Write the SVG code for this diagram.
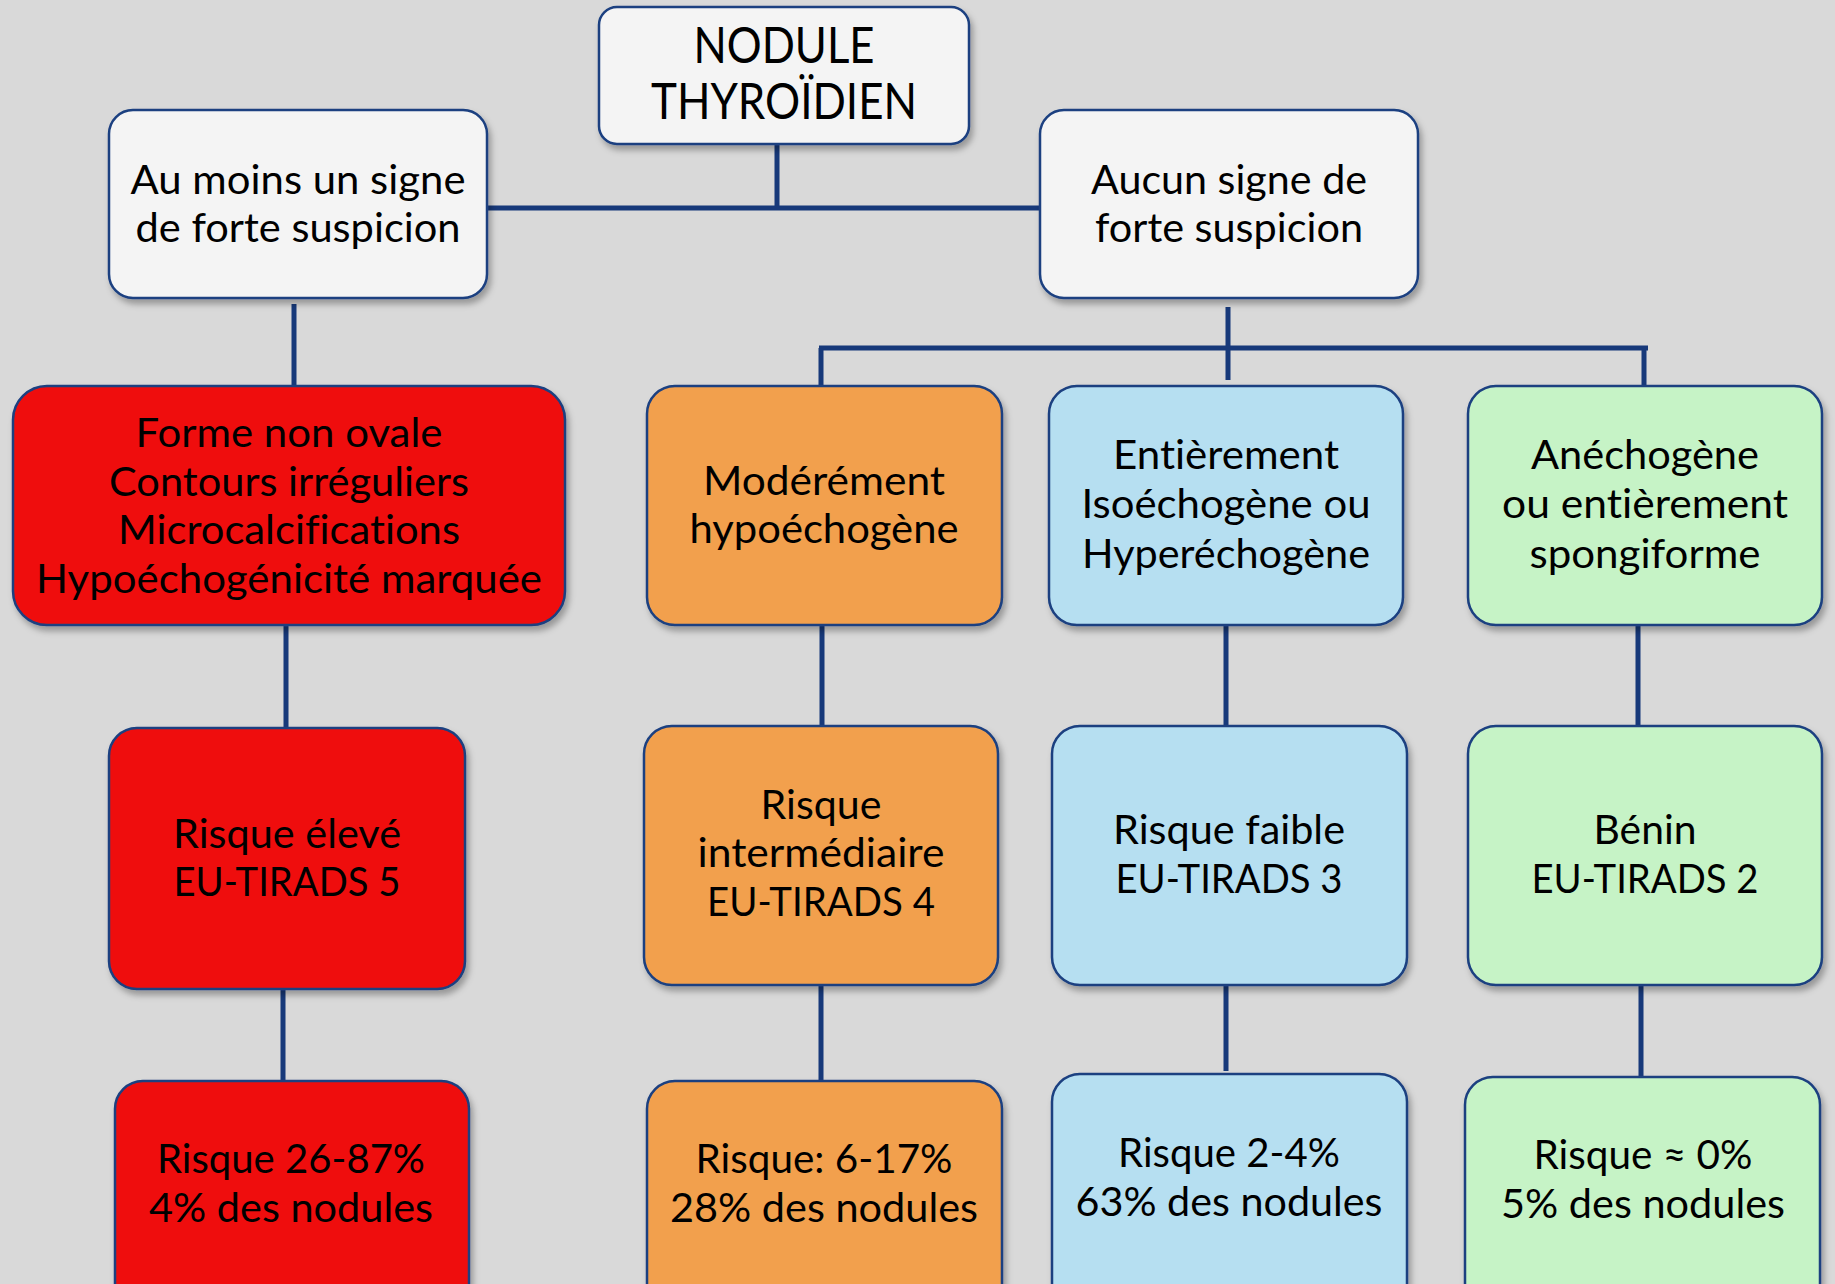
<svg xmlns="http://www.w3.org/2000/svg" width="1835" height="1284" viewBox="0 0 1835 1284">
<defs>
<filter id="sh" x="-10%" y="-10%" width="120%" height="130%">
<feDropShadow dx="3" dy="5" stdDeviation="3" flood-color="#000" flood-opacity="0.3"/>
</filter>
<style>
.box{stroke:#1a3f80;stroke-width:2.5;filter:url(#sh)}
.w{fill:#f4f4f4}.r{fill:#ef0f0f}.o{fill:#f2a04e}.b{fill:#b6dff1}.g{fill:#c6f3c6}
text{font-family:Lato,"Open Sans","Liberation Sans",sans-serif;font-size:40px;fill:#000;text-anchor:middle;font-variant-ligatures:none}
.t{font-size:50px}
.c{stroke:#17397a;stroke-width:5;fill:none}
</style>
</defs>
<rect width="1835" height="1284" fill="#d9d9d9"/>
<g id="connectors">
<path class="c" d="M777 144V208M487 208H1040"/>
<path class="c" d="M294 304V386"/>
<path class="c" d="M1228 307V380M819 348H1648M821 348V386M1644 348V386"/>
<path class="c" d="M286 625V728M283 989V1081"/>
<path class="c" d="M822 625V726M821 985V1081"/>
<path class="c" d="M1226 625V726M1226 985V1071"/>
<path class="c" d="M1638 625V726M1641 985V1077"/>
</g>
<g id="n-top"><rect class="box w" x="599" y="7" width="370" height="137" rx="18"/>
<text class="t" x="784" y="63" textLength="181" lengthAdjust="spacingAndGlyphs">NODULE</text>
<text class="t" x="784" y="119" textLength="266" lengthAdjust="spacingAndGlyphs">THYROÏDIEN</text></g>
<g id="n-susp"><rect class="box w" x="109" y="110" width="378" height="188" rx="24"/>
<text x="298" y="194" textLength="335" lengthAdjust="spacingAndGlyphs">Au moins un signe</text>
<text x="298" y="242" textLength="325" lengthAdjust="spacingAndGlyphs">de forte suspicion</text></g>
<g id="n-nosusp"><rect class="box w" x="1040" y="110" width="378" height="188" rx="24"/>
<text x="1229" y="194" textLength="276" lengthAdjust="spacingAndGlyphs">Aucun signe de</text>
<text x="1229" y="242" textLength="268" lengthAdjust="spacingAndGlyphs">forte suspicion</text></g>
<g id="n-r1"><rect class="box r" x="13" y="386" width="552" height="239" rx="34"/>
<text x="289" y="447" textLength="307" lengthAdjust="spacingAndGlyphs">Forme non ovale</text>
<text x="289" y="496" textLength="360" lengthAdjust="spacingAndGlyphs">Contours irréguliers</text>
<text x="289" y="544" textLength="342" lengthAdjust="spacingAndGlyphs">Microcalcifications</text>
<text x="289" y="593" textLength="506" lengthAdjust="spacingAndGlyphs">Hypoéchogénicité marquée</text></g>
<g id="n-o1"><rect class="box o" x="647" y="386" width="355" height="239" rx="28"/>
<text x="824" y="495" textLength="242" lengthAdjust="spacingAndGlyphs">Modérément</text>
<text x="824" y="543" textLength="269" lengthAdjust="spacingAndGlyphs">hypoéchogène</text></g>
<g id="n-b1"><rect class="box b" x="1049" y="386" width="354" height="239" rx="28"/>
<text x="1226" y="469" textLength="226" lengthAdjust="spacingAndGlyphs">Entièrement</text>
<text x="1226" y="518" textLength="289" lengthAdjust="spacingAndGlyphs">Isoéchogène ou</text>
<text x="1226" y="568" textLength="288" lengthAdjust="spacingAndGlyphs">Hyperéchogène</text></g>
<g id="n-g1"><rect class="box g" x="1468" y="386" width="354" height="239" rx="28"/>
<text x="1645" y="469" textLength="228" lengthAdjust="spacingAndGlyphs">Anéchogène</text>
<text x="1645" y="518" textLength="286" lengthAdjust="spacingAndGlyphs">ou entièrement</text>
<text x="1645" y="568" textLength="231" lengthAdjust="spacingAndGlyphs">spongiforme</text></g>
<g id="n-r2"><rect class="box r" x="109" y="728" width="356" height="261" rx="28"/>
<text x="287" y="848" textLength="228" lengthAdjust="spacingAndGlyphs">Risque élevé</text>
<text x="287" y="896" textLength="227" lengthAdjust="spacingAndGlyphs">EU-TIRADS 5</text></g>
<g id="n-o2"><rect class="box o" x="644" y="726" width="354" height="259" rx="28"/>
<text x="821" y="819" textLength="121" lengthAdjust="spacingAndGlyphs">Risque</text>
<text x="821" y="867" textLength="247" lengthAdjust="spacingAndGlyphs">intermédiaire</text>
<text x="821" y="916" textLength="228" lengthAdjust="spacingAndGlyphs">EU-TIRADS 4</text></g>
<g id="n-b2"><rect class="box b" x="1052" y="726" width="355" height="259" rx="28"/>
<text x="1229" y="844" textLength="232" lengthAdjust="spacingAndGlyphs">Risque faible</text>
<text x="1229" y="893" textLength="227" lengthAdjust="spacingAndGlyphs">EU-TIRADS 3</text></g>
<g id="n-g2"><rect class="box g" x="1468" y="726" width="354" height="259" rx="28"/>
<text x="1645" y="844" textLength="103" lengthAdjust="spacingAndGlyphs">Bénin</text>
<text x="1645" y="893" textLength="227" lengthAdjust="spacingAndGlyphs">EU-TIRADS 2</text></g>
<g id="n-r3"><rect class="box r" x="115" y="1081" width="354" height="240" rx="28"/>
<text x="291" y="1173" textLength="268" lengthAdjust="spacingAndGlyphs">Risque 26-87%</text>
<text x="291" y="1222" textLength="284" lengthAdjust="spacingAndGlyphs">4% des nodules</text></g>
<g id="n-o3"><rect class="box o" x="647" y="1081" width="355" height="240" rx="28"/>
<text x="824" y="1173" textLength="257" lengthAdjust="spacingAndGlyphs">Risque: 6-17%</text>
<text x="824" y="1222" textLength="308" lengthAdjust="spacingAndGlyphs">28% des nodules</text></g>
<g id="n-b3"><rect class="box b" x="1052" y="1074" width="355" height="240" rx="28"/>
<text x="1229" y="1167" textLength="222" lengthAdjust="spacingAndGlyphs">Risque 2-4%</text>
<text x="1229" y="1216" textLength="307" lengthAdjust="spacingAndGlyphs">63% des nodules</text></g>
<g id="n-g3"><rect class="box g" x="1465" y="1077" width="355" height="240" rx="28"/>
<text x="1643" y="1169" textLength="219" lengthAdjust="spacingAndGlyphs">Risque ≈ 0%</text>
<text x="1643" y="1218" textLength="284" lengthAdjust="spacingAndGlyphs">5% des nodules</text></g>
</svg>
